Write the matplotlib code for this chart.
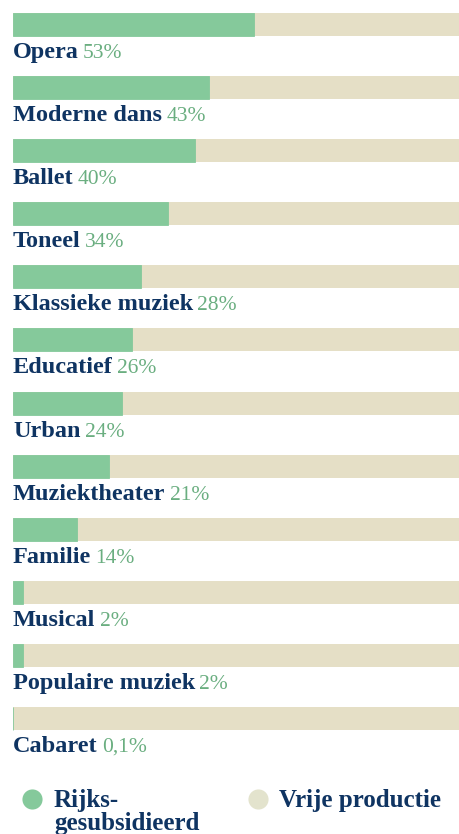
import matplotlib
matplotlib.use("Agg")
import matplotlib.pyplot as plt

# share of productions per genre that is state subsidised (%)
genres = ["Opera", "Moderne dans", "Ballet", "Toneel", "Klassieke muziek",
          "Educatief", "Urban", "Muziektheater", "Familie", "Musical",
          "Populaire muziek", "Cabaret"]
# bar lengths
subsidised = [53.9, 43.8, 40.7, 34.7, 28.6, 26.6, 24.4, 21.5, 14.3, 2.2, 2.2, 0.1]
pct_labels = ["53%", "43%", "40%", "34%", "28%", "26%", "24%", "21%", "14%",
              "2%", "2%", "0,1%"]
legend_labels = [["Rijks-", "gesubsidieerd"], ["Vrije productie"]]

GREEN = "#85c99b"
BEIGE = "#e5dfc6"
BEIGE_DOT = "#e3e3cd"
NAVY = "#0f3462"
PCT_GREEN = "#6aae80"
FONT = "Liberation Serif"

W, H = 460, 834
fig = plt.figure(figsize=(W / 100, H / 100), dpi=100)

ax = fig.add_axes([13 / W, 0, 447 / W, 1])
ax.set_xlim(0, 100)
ax.set_ylim(12.829, -0.388)
ax.axis("off")

idx = list(range(len(genres)))
bh = 0.3645
ax.barh(idx, [100] * len(idx), height=bh, color=BEIGE, linewidth=0)
ax.barh(idx, subsidised, height=bh, color=GREEN, edgecolor=GREEN,
        linewidth=0.6)

for i, (name, pct) in enumerate(zip(genres, pct_labels)):
    t = ax.text(0, i + 0.53, name, fontsize=17.5, fontweight="bold",
                family=FONT, color=NAVY, va="baseline", ha="left")
    ax.annotate(pct, xy=(1, 0), xycoords=t, xytext=(3, 0),
                textcoords="offset points", fontsize=15.5, family=FONT,
                color=PCT_GREEN, va="bottom", ha="left")

# legend
lax = fig.add_axes([0, 0, 1, 1])
lax.set_xlim(0, W)
lax.set_ylim(H, 0)
lax.axis("off")
for (cx, tx, col), lines in zip([(32, 54, GREEN), (258, 279, BEIGE_DOT)],
                                 legend_labels):
    lax.plot([cx], [799], "o", ms=14.5, color=col, mec="none")
    for k, line in enumerate(lines):
        lax.text(tx, 807 + 23 * k, line, fontsize=18, fontweight="bold",
                 family=FONT, color=NAVY, va="baseline", ha="left")

fig.savefig("out.png", dpi=100)
